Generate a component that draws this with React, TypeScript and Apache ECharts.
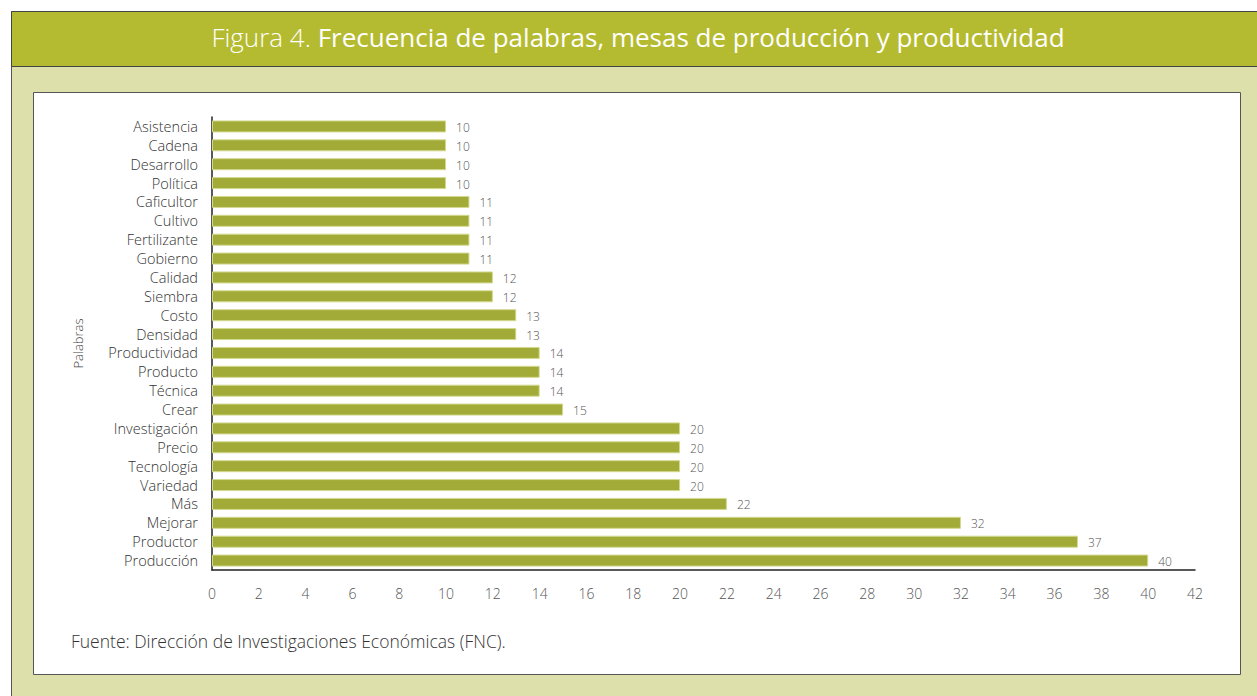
import React, { useEffect, useRef } from "react";
import * as echarts from "echarts";

const categories = [
  "Asistencia", "Cadena", "Desarrollo", "Política", "Caficultor", "Cultivo",
  "Fertilizante", "Gobierno", "Calidad", "Siembra", "Costo", "Densidad",
  "Productividad", "Producto", "Técnica", "Crear", "Investigación", "Precio",
  "Tecnología", "Variedad", "Más", "Mejorar", "Productor", "Producción",
];
const values = [10, 10, 10, 10, 11, 11, 11, 11, 12, 12, 13, 13, 14, 14, 14, 15, 20, 20, 20, 20, 22, 32, 37, 40];
const titleLight = "Figura 4. ";
const titleBold = "Frecuencia de palabras, mesas de producción y productividad";
const yAxisName = "Palabras";
const sourceText = "Fuente: Dirección de Investigaciones Económicas (FNC).";

const FONT = "'Open Sans', Lato, sans-serif";

export default function App() {
  const ref = useRef<HTMLDivElement>(null);
  useEffect(() => {
    if (!ref.current) return;
    const chart = echarts.init(ref.current, null, { renderer: "svg" });
    chart.setOption({
      animation: false,
      backgroundColor: "#ffffff",
      textStyle: { fontFamily: FONT },
      graphic: [
        { type: "rect", z: -10, shape: { x: 11.5, y: 11.5, width: 1260, height: 700 }, style: { fill: "#dde0aa", stroke: "#555", lineWidth: 1 } },
        { type: "rect", z: -9, shape: { x: 11.5, y: 11.5, width: 1260, height: 55 }, style: { fill: "#b5bb30", stroke: "#444", lineWidth: 1 } },
        { type: "rect", z: -8, shape: { x: 33.5, y: 92.5, width: 1207, height: 582 }, style: { fill: "#ffffff", stroke: "#555", lineWidth: 1 } },
        {
          type: "text", z: 10, x: 638, y: 37,
          style: {
            text: "{l|" + titleLight + "}{b|" + titleBold + "}",
            align: "center", verticalAlign: "middle",
            rich: {
              l: { fill: "#ffffff", fontSize: 26, fontWeight: 300, fontFamily: FONT },
              b: { fill: "#ffffff", fontSize: 26, fontWeight: 500, fontFamily: FONT },
            },
          },
        },
        {
          type: "text", x: 71, y: 641,
          style: { text: sourceText, fill: "#333", fontSize: 17.5, fontWeight: 300, fontFamily: FONT, verticalAlign: "middle" },
        },
      ],
      grid: { left: 212, top: 117, width: 983, height: 453, containLabel: false },
      xAxis: {
        type: "value", min: 0, max: 42, interval: 2,
        axisLine: { show: true, lineStyle: { color: "#222", width: 1.5 } },
        axisTick: { show: false },
        splitLine: { show: false },
        axisLabel: { color: "#555", fontSize: 14, fontWeight: 300, margin: 16, fontFamily: FONT },
      },
      yAxis: {
        type: "category", data: categories, inverse: true,
        name: yAxisName, nameLocation: "middle", nameGap: 128, nameRotate: 90,
        nameTextStyle: { color: "#444", fontSize: 13, fontWeight: 300, fontFamily: FONT },
        axisLine: { show: true, lineStyle: { color: "#222", width: 1.5 } },
        axisTick: { show: false },
        axisLabel: { interval: 0, color: "#333", fontSize: 14.5, fontWeight: 300, margin: 14, fontFamily: FONT },
      },
      series: [
        {
          type: "bar", data: values, barWidth: 12,
          itemStyle: { color: "#a2ab38", borderColor: "#d3d98f", borderWidth: 1 },
          label: { show: true, position: "right", distance: 10, color: "#555", fontSize: 12, fontWeight: 300, fontFamily: FONT, offset: [0, 1] },
        },
      ],
    });
    return () => chart.dispose();
  }, []);
  return <div ref={ref} style={{ position: "absolute", left: 0, top: 0, width: 1257, height: 696 }} />;
}
